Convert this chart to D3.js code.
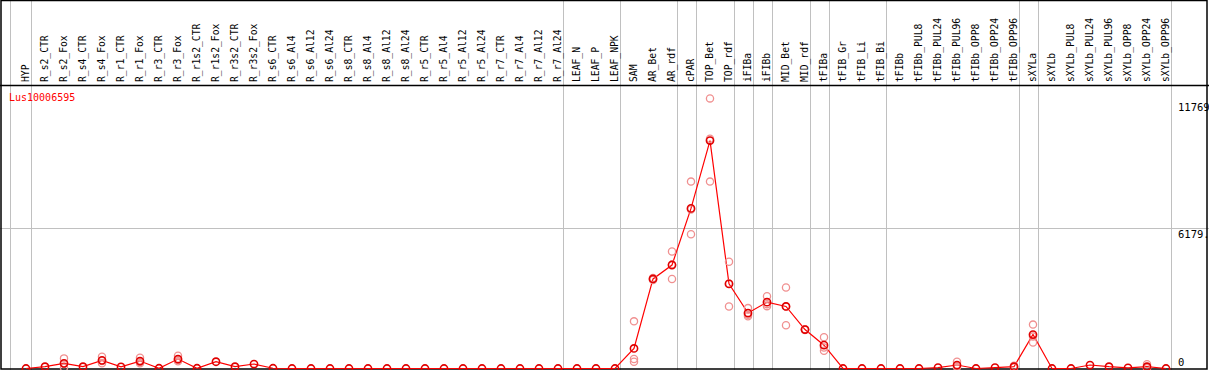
<!DOCTYPE html>
<html>
<head>
<meta charset="utf-8">
<script src="https://cdn.jsdelivr.net/npm/d3@7"></script>
<style>
  body { margin: 0; background: #fff; }
  svg { display: block; }
  text { font-family: "DejaVu Sans Mono", monospace; }
</style>
</head>
<body>
<div id="chart"></div>
<script>
const geneName = 'Lus10006595';

const categories = [
  'HYP', 'R_s2_CTR', 'R_s2_Fox', 'R_s4_CTR', 'R_s4_Fox', 'R_r1_CTR', 'R_r1_Fox',
  'R_r3_CTR', 'R_r3_Fox', 'R_r1s2_CTR', 'R_r1s2_Fox', 'R_r3s2_CTR', 'R_r3s2_Fox',
  'R_s6_CTR', 'R_s6_Al4', 'R_s6_Al12', 'R_s6_Al24', 'R_s8_CTR', 'R_s8_Al4',
  'R_s8_Al12', 'R_s8_Al24', 'R_r5_CTR', 'R_r5_Al4', 'R_r5_Al12', 'R_r5_Al24',
  'R_r7_CTR', 'R_r7_Al4', 'R_r7_Al12', 'R_r7_Al24', 'LEAF_N', 'LEAF_P', 'LEAF_NPK',
  'SAM', 'AR_Bet', 'AR_rdf', 'cPAR', 'TOP_Bet', 'TOP_rdf', 'iFIBa', 'iFIBb',
  'MID_Bet', 'MID_rdf', 'tFIBa', 'tFIB_Gr', 'tFIB_Li', 'tFIB_Bi', 'tFIBb',
  'tFIBb_PUL8', 'tFIBb_PUL24', 'tFIBb_PUL96', 'tFIBb_OPP8', 'tFIBb_OPP24', 'tFIBb_OPP96',
  'sXYLa', 'sXYLb', 'sXYLb_PUL8', 'sXYLb_PUL24', 'sXYLb_PUL96', 'sXYLb_OPP8',
  'sXYLb_OPP24', 'sXYLb_OPP96'
];

// mean expression per sample
const means = [
  0, 80, 227, 80, 358, 70, 328,
  10, 416, 10, 298, 80, 197,
  10, 0, 0, 0, 0, 0,
  0, 0, 0, 0, 0, 0,
  0, 0, 0, 0, 0, 0, 0,
  884, 3946, 4559, 7053, 10041, 3727, 2443, 2923,
  2734, 1715, 1028, 0, 0, 0, 0,
  0, 40, 153, 0, 40, 80,
  1496, 0, 0, 153, 80, 30,
  80, 0
];

// individual replicates (only samples where they show)
const repCategories = [
  'R_s2_Fox', 'R_s4_Fox', 'R_r1_Fox', 'R_r3_Fox', 'SAM', 'AR_Bet', 'AR_rdf', 'cPAR',
  'TOP_Bet', 'TOP_rdf', 'iFIBa', 'iFIBb', 'MID_Bet', 'MID_rdf', 'tFIBa',
  'tFIBb_PUL96', 'tFIBb_OPP96', 'sXYLa', 'sXYLb_OPP24'
];
const repValues = [
  [446, 200, 35], [516, 330, 227], [473, 285, 227], [560, 372, 316],
  [2078, 416, 298], [3946, 3900, 3990], [5154, 3946, 4577], [8234, 5915, 7010],
  [11900, 8234, 10120], [4703, 2734, 3744], [2660, 2371, 2300], [3185, 2748, 2836],
  [3566, 1903, 2733], [1715, 1700, 1730], [1378, 779, 927],
  [300, 100, 60], [120, 60, 60], [1934, 1146, 1408], [184, 40, 16]
];

// grey separators drawn right after these samples
const groupEnds = [
  'HYP', 'R_r7_Al24', 'LEAF_NPK', 'AR_rdf', 'cPAR', 'TOP_rdf', 'iFIBa', 'iFIBb',
  'MID_rdf', 'tFIBa', 'tFIB_Bi', 'tFIBb_OPP96', 'sXYLa', 'sXYLb_OPP96'
];

const yMax = 12358;
const yTickValues = [0, 6179, 11769];
const yTickLabels = ['0', '6179.', '11769'];

const width = 1209, height = 370;
const headerY = 85, bottomY = 368.5;

const svg = d3.select('#chart').append('svg')
  .attr('width', width)
  .attr('height', height);

const x = d3.scalePoint()
  .domain(categories)
  .range([26, 1166]);

const y = d3.scaleLinear()
  .domain([0, yMax])
  .range([bottomY, 88]);

const step = x.step();

// separators
svg.append('line')
  .attr('x1', 10.5).attr('x2', 10.5)
  .attr('y1', 0).attr('y2', height)
  .attr('stroke', '#c0c0c0');

svg.selectAll('.sep')
  .data(groupEnds)
  .enter().append('line')
  .attr('class', 'sep')
  .attr('x1', d => Math.round(x(d) + 4.5) + 0.5)
  .attr('x2', d => Math.round(x(d) + 4.5) + 0.5)
  .attr('y1', 0).attr('y2', height)
  .attr('stroke', '#c0c0c0');

// horizontal grid at the middle tick
svg.append('line')
  .attr('x1', 0).attr('x2', width)
  .attr('y1', Math.round(y(yTickValues[1])) + 0.5)
  .attr('y2', Math.round(y(yTickValues[1])) + 0.5)
  .attr('stroke', '#c0c0c0');

// frame
svg.append('rect')
  .attr('x', 1).attr('y', 0.5)
  .attr('width', 1206).attr('height', 368.5)
  .attr('fill', 'none')
  .attr('stroke', '#000')
  .attr('stroke-width', 1.5);

svg.append('line')
  .attr('x1', 0).attr('x2', width)
  .attr('y1', headerY + 0.5).attr('y2', headerY + 0.5)
  .attr('stroke', '#000')
  .attr('stroke-width', 1.5);

// sample labels, vertical
svg.selectAll('.lab')
  .data(categories)
  .enter().append('text')
  .attr('class', 'lab')
  .attr('transform', d => 'translate(' + (x(d) + 3) + ',82) rotate(-90)')
  .attr('font-size', '9.7px')
  .attr('fill', '#000')
  .text(d => d);

// gene name
svg.append('text')
  .attr('x', 9)
  .attr('y', 101)
  .attr('font-size', '10px')
  .attr('fill', '#ff0000')
  .text(geneName);

// right value labels
svg.selectAll('.ytick')
  .data(yTickValues)
  .enter().append('text')
  .attr('class', 'ytick')
  .attr('x', 1178)
  .attr('y', d => Math.min(y(d) + 10, 365.5))
  .attr('font-size', '10.5px')
  .attr('fill', '#000')
  .text((d, i) => yTickLabels[i]);

// mean line
const line = d3.line()
  .x((d, i) => x(categories[i]))
  .y(d => y(d));

svg.append('path')
  .datum(means)
  .attr('d', line)
  .attr('fill', 'none')
  .attr('stroke', '#ff0000')
  .attr('stroke-width', 1.2);

// replicate circles
const reps = [];
repCategories.forEach((c, i) => {
  repValues[i].forEach(v => reps.push({ c: c, v: v }));
});

svg.selectAll('.rep')
  .data(reps)
  .enter().append('circle')
  .attr('class', 'rep')
  .attr('cx', d => x(d.c))
  .attr('cy', d => y(d.v))
  .attr('r', 3.6)
  .attr('fill', 'none')
  .attr('stroke', '#f09090')
  .attr('stroke-width', 1.3);

// mean circles
svg.selectAll('.mean')
  .data(means)
  .enter().append('circle')
  .attr('class', 'mean')
  .attr('cx', (d, i) => x(categories[i]))
  .attr('cy', d => y(d))
  .attr('r', 3.6)
  .attr('fill', 'none')
  .attr('stroke', '#e00000')
  .attr('stroke-width', 1.6);
</script>
</body>
</html>
